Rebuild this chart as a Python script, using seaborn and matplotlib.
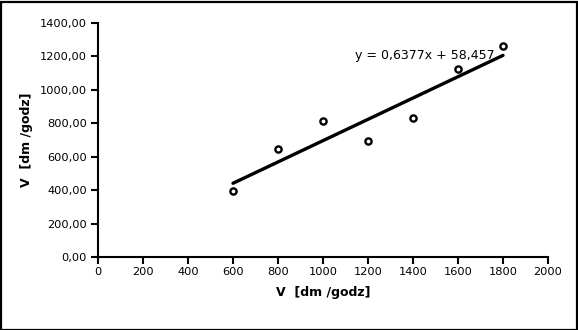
import matplotlib
matplotlib.use("Agg")
import matplotlib.pyplot as plt
from matplotlib.patches import Rectangle
from matplotlib.ticker import FuncFormatter
import numpy as np
import pandas as pd
import seaborn as sns

# measured flow rates
flow_in = [600, 800, 1000, 1200, 1400, 1600, 1800]
flow_out = [395, 645, 815, 695, 830, 1125, 1260]

# linear trend coefficients
slope = 0.6377
intercept = 58.457

x_ticks = [0, 200, 400, 600, 800, 1000, 1200, 1400, 1600, 1800, 2000]
y_ticks = [0, 200, 400, 600, 800, 1000, 1200, 1400]
axis_label = "V  [dm /godz]"
equation = "y = 0,6377x + 58,457"

sns.set_style("white")
plt.rcParams.update({
    "font.family": ["DejaVu Sans"],
    "text.color": "black",
    "axes.labelcolor": "black",
})

df = pd.DataFrame({"x": flow_in, "y": flow_out})
trend_x = np.array([min(flow_in), max(flow_in)])
trend = pd.DataFrame({"x": trend_x, "y": slope * trend_x + intercept})

fig = plt.figure(figsize=(5.78, 3.30), dpi=100)
ax = fig.add_axes([98 / 578, 1 - 257 / 330, 450 / 578, 234 / 330])

sns.lineplot(data=trend, x="x", y="y", ax=ax, color="black", linewidth=2.4, zorder=2)
sns.scatterplot(data=df, x="x", y="y", ax=ax, marker="o", s=20,
                facecolor="white", edgecolor="black", linewidth=1.7, zorder=3)

ax.set_xlim(0, 2000)
ax.set_ylim(0, 1400)
ax.set_xticks(x_ticks)
ax.set_yticks(y_ticks)
ax.yaxis.set_major_formatter(FuncFormatter(lambda v, p: f"{v:.2f}".replace(".", ",")))

for side in ("top", "right"):
    ax.spines[side].set_visible(False)
for side in ("left", "bottom"):
    ax.spines[side].set_linewidth(1.5)
    ax.spines[side].set_color("black")

ax.set_xlabel(axis_label, fontsize=9, fontweight="bold", labelpad=6, color="black")
ax.set_ylabel(axis_label, fontsize=9, fontweight="bold", labelpad=5, color="black")

ax.text(1142, 1208, equation, fontsize=9, va="center", ha="left", color="black")

# outward tick marks on the two visible axes
ax.tick_params(axis="x", which="major", direction="out", length=5, width=1.5,
               color="black", labelsize=8.2, labelcolor="black", pad=2.5,
               bottom=True, top=False)
ax.tick_params(axis="y", which="major", direction="out", length=5, width=1.5,
               color="black", labelsize=8.2, labelcolor="black", pad=3,
               left=True, right=False)

fig.patches.append(Rectangle((0.5 / 578, 0.5 / 330), 1 - 2 / 578, 1 - 2 / 330,
                             transform=fig.transFigure, fill=False,
                             edgecolor="black", linewidth=1.6))

fig.savefig("out.png", dpi=100)
